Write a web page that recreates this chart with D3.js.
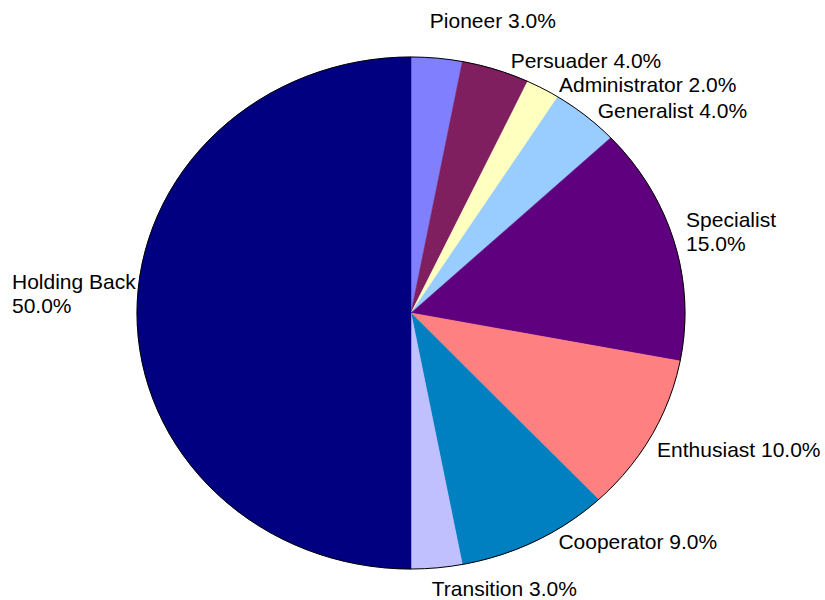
<!DOCTYPE html>
<html>
<head>
<meta charset="utf-8">
<script src="https://cdn.jsdelivr.net/npm/d3@7"></script>
<style>
  html, body { margin: 0; padding: 0; background: #fff; }
  text { font-family: "Liberation Sans", Arial, sans-serif; font-size: 21px; fill: #000; }
</style>
</head>
<body>
<svg id="chart" width="825" height="600"></svg>
<script>
const categories = ["Pioneer", "Persuader", "Administrator", "Generalist", "Specialist",
                    "Enthusiast", "Cooperator", "Transition", "Holding Back"];
const values = [3, 4, 2, 4, 15, 10, 9, 3, 50];
const colors = ["#8080FF", "#7F1F5F", "#FFFFC0", "#99CCFF", "#5F007F",
                "#FF8080", "#0080C0", "#C0C0FF", "#000080"];
// label layout: offset from ellipse edge point at slice mid-angle, and whether split on two lines
const labelOffsets = [[-7, -30], [15, -2], [16, 3], [12, 2], [12, -15],
                      [6, 21], [23, 8], [-5, 28], [-125, -24]];
const labelTwoLine = [false, false, false, false, true, false, false, false, true];

const svg = d3.select("#chart");
const cx = 411, cy = 313, rx = 274, ry = 256;

const pie = d3.pie().sort(null).value(d => d)(values);
const arc = d3.arc().innerRadius(0).outerRadius(rx);

const g = svg.append("g")
  .attr("transform", `translate(${cx},${cy}) scale(1,${ry / rx})`);

g.selectAll("path.slice")
  .data(pie)
  .join("path")
  .attr("class", "slice")
  .attr("d", arc)
  .attr("fill", (d, i) => colors[i])
  .attr("stroke", (d, i) => colors[i])
  .attr("stroke-width", 0.5)
  .attr("vector-effect", "non-scaling-stroke");

svg.append("ellipse")
  .attr("cx", cx).attr("cy", cy).attr("rx", rx).attr("ry", ry)
  .attr("fill", "none").attr("stroke", "#000").attr("stroke-width", 1);

const fmt = d3.format(".1f");
pie.forEach((d, i) => {
  const a = (d.startAngle + d.endAngle) / 2;
  const px = cx + rx * Math.sin(a) + labelOffsets[i][0];
  const py = cy - ry * Math.cos(a) + labelOffsets[i][1];
  const pct = fmt(values[i] / d3.sum(values) * 100) + "%";
  const t = svg.append("text").attr("x", px).attr("y", py);
  if (labelTwoLine[i]) {
    t.append("tspan").attr("x", px).attr("y", py).text(categories[i]);
    t.append("tspan").attr("x", px).attr("y", py + 24).text(pct);
  } else {
    t.text(categories[i] + " " + pct);
  }
});
</script>
</body>
</html>
